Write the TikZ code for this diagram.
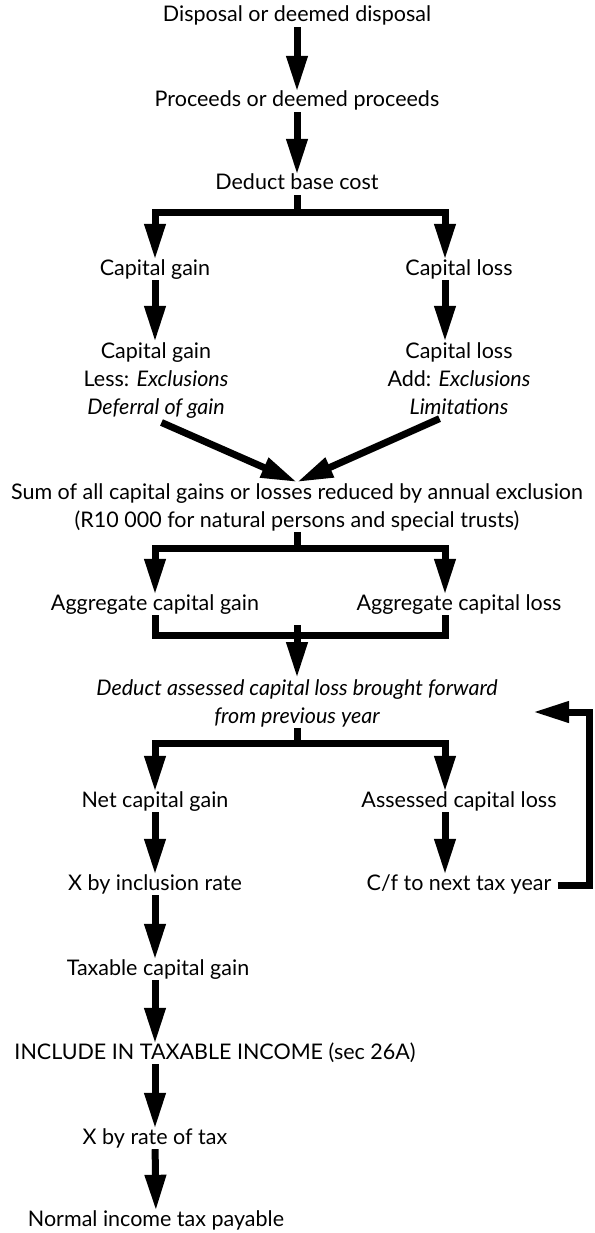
\documentclass[tikz,border=0pt]{standalone}
\usepackage{fontspec}
\setmainfont{Lato}
\usetikzlibrary{arrows.meta}
\usetikzlibrary{positioning}

\begin{document}
\begin{tikzpicture}[x=1pt,y=-1pt,
  txt/.style={font=\fontsize{21.5}{28}\selectfont, inner sep=1pt, text height=14pt, text depth=4pt},
  txtm/.style={font=\fontsize{21.5}{28}\selectfont, inner sep=1pt, align=center},
  flow/.style={line width=7pt, -{Triangle[length=36pt,width=20pt]}, line join=miter},
  bar/.style={line width=7pt, line join=miter}]
\useasboundingbox (0,0) rectangle (594,1233);
\coordinate (colL) at (155,0);
\coordinate (colR) at (445,0);

\node[txt] (disp) at (297,17) {Disposal or deemed disposal};
\node[txt] (proc) at (297,102) {Proceeds or deemed proceeds};
\node[txt] (base) at (297,185) {Deduct base cost};
\node[txt] (gain) at (155,270) {Capital gain};
\node[txt] (loss) at (459,270) {Capital loss};
\node[txtm] (gainx) at (156,381) {Capital gain\\Less: \textit{Exclusions}\\\textit{Deferral of gain}};
\node[txtm] (lossx) at (459,379) {Capital loss\\Add: \textit{Exclusions}\\\textit{Limitations}};
\node[txtm] (sum) at (297,507) {Sum of all capital gains or losses reduced by annual exclusion\\(R10~000 for natural persons and special trusts)};
\node[txt] (agggain) at (155,605) {Aggregate capital gain};
\node[txt] (aggloss) at (459,605) {Aggregate capital loss};
\node[txtm, font=\fontsize{21.5}{28}\selectfont\itshape] (fwd) at (297,703) {Deduct assessed capital loss brought forward\\from previous year};
\node[txt] (net) at (155,802) {Net capital gain};
\node[txt] (acl) at (459,802) {Assessed capital loss};
\node[txt] (incl) at (155,885) {X by inclusion rate};
\node[txt] (cf) at (459,885) {C/f to next tax year};
\node[txt] (tcg) at (158,970) {Taxable capital gain};
\node[txt] (ti) at (215,1054) {INCLUDE IN TAXABLE INCOME (sec 26A)};
\node[txt] (rate) at (155,1139) {X by rate of tax};
\node[txt] (pay) at (156,1221) {Normal income tax payable};

\draw[flow] (disp) -- (proc);
\draw[flow] (proc) -- (base);
\coordinate (b1) at (297,213);
\draw[flow] (base.south) -- (b1) -| (gain.north);
\draw[flow] (b1) -| (loss.north -| colR);
\draw[flow] (gain.south) -- (gain.south |- gainx.north);
\draw[flow] (loss.south -| colR) -- (lossx.north -| colR);
\draw[flow, shorten <=6pt] (gainx.south) -- (sum.north);
\draw[flow, shorten <=6pt] (lossx.south -| colR) -- (sum.north);

\coordinate (b2) at (297,548);
\draw[flow] (sum.south) -- (b2) -| (agggain.north);
\draw[flow] (b2) -| (aggloss.north -| colR);
\coordinate (m) at (297,635);
\draw[bar] (agggain.south) |- (m) -| (aggloss.south -| colR);
\coordinate (mtop) at (297,625);
\draw[flow] (mtop) -- (fwd.north);

\coordinate (b3) at (297,743);
\draw[flow] (fwd.south) -- (b3) -| (net.north);
\draw[flow] (b3) -| (acl.north -| colR);
\draw[flow] (net) -- (incl);
\draw[flow] (acl.south -| colR) -- (cf.north -| colR);
\coordinate (fb) at (589,712);
\coordinate (fbtip) at (533,712);
\draw[flow, shorten <=5pt] (cf.east) -| (fb) -- (fbtip);

\draw[flow] (incl.south) -- (incl.south |- tcg.north);
\draw[flow] (tcg.south -| colL) -- (ti.north -| colL);
\draw[flow] (ti.south -| colL) -- (rate.north);
\draw[flow] (rate) -- (pay);
\end{tikzpicture}
\end{document}
